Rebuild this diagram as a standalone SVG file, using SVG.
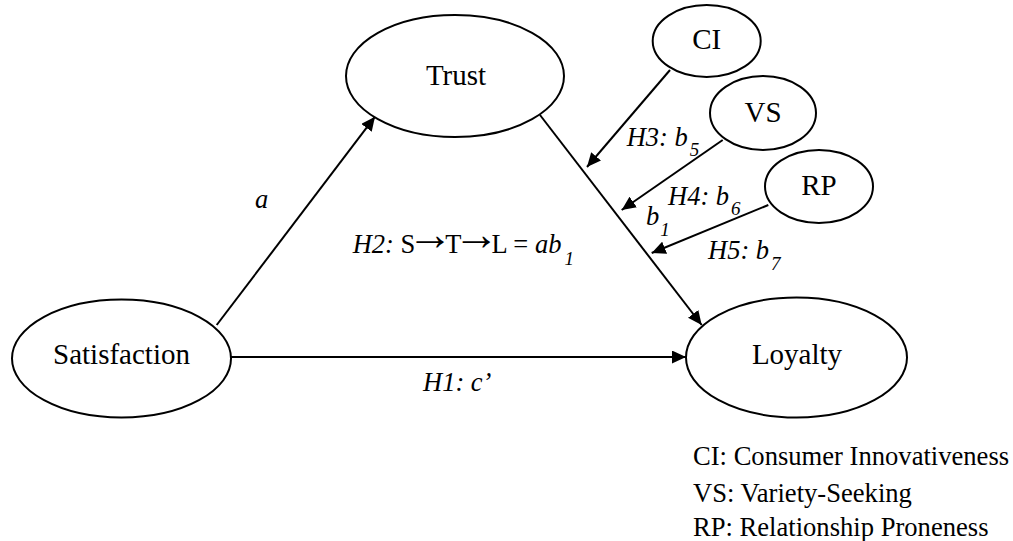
<svg xmlns="http://www.w3.org/2000/svg" width="1013" height="541" viewBox="0 0 1013 541">
  <style>
    .node { fill: #ffffff; stroke: #000000; stroke-width: 2; }
    .name { font-family: "Liberation Serif", "Times New Roman", serif; font-size: 29px; fill: #000; text-anchor: middle; }
    .edge { fill: none; stroke: #000000; stroke-width: 2; marker-end: url(#arrow); }
    .lbl { font-family: "Liberation Serif", "Times New Roman", serif; font-size: 26.5px; fill: #000; }
    .it { font-style: italic; }
    .sub { font-style: italic; font-size: 19px; }
    .arr { font-size: 46px; }
    .legend { font-family: "Liberation Serif", "Times New Roman", serif; font-size: 26.6px; fill: #000; }
  </style>
  <defs>
    <marker id="arrow" markerWidth="14" markerHeight="13" refX="14" refY="6.5" orient="auto" markerUnits="userSpaceOnUse">
      <path d="M0,0 L14,6.5 L0,13 z" fill="#000"/>
    </marker>
  </defs>

  <rect width="1013" height="541" fill="#ffffff"/>

  <!-- connectors -->
  <g id="connectors">
    <path class="edge" d="M216.7,325 L375,116.7"/>
    <path class="edge" d="M231,357 L686,357"/>
    <path class="edge" d="M540,115 L701.7,325"/>
    <path class="edge" d="M670,70 L587,167"/>
    <path class="edge" d="M722.7,140 L621.7,210"/>
    <path class="edge" d="M768.3,205 L651.7,253"/>
  </g>

  <!-- nodes -->
  <g id="trust">
    <ellipse class="node" cx="455" cy="76" rx="109" ry="61"/>
    <text class="name" x="456" y="85">Trust</text>
  </g>
  <g id="satisfaction">
    <ellipse class="node" cx="121.5" cy="358.5" rx="109.5" ry="59"/>
    <text class="name" x="121.5" y="364">Satisfaction</text>
  </g>
  <g id="loyalty">
    <ellipse class="node" cx="796.5" cy="357.5" rx="110.5" ry="60"/>
    <text class="name" x="797" y="364">Loyalty</text>
  </g>
  <g id="ci">
    <ellipse class="node" cx="706.7" cy="41" rx="54" ry="36"/>
    <text class="name" x="706.7" y="49">CI</text>
  </g>
  <g id="vs">
    <ellipse class="node" cx="763" cy="113" rx="53" ry="37"/>
    <text class="name" x="763" y="122">VS</text>
  </g>
  <g id="rp">
    <ellipse class="node" cx="819" cy="186.5" rx="54" ry="36.5"/>
    <text class="name" x="819" y="195">RP</text>
  </g>

  <!-- path labels -->
  <g id="labels">
    <text class="lbl it" x="255" y="208">a</text>
    <text class="lbl" x="352.7" y="253"><tspan class="it">H2:</tspan> S<tspan class="arr" dx="-8" dy="-3">→</tspan><tspan dx="-8" dy="3">T</tspan><tspan class="arr" dx="-8" dy="-3">→</tspan><tspan dx="-8" dy="3">L = </tspan><tspan class="it">ab</tspan><tspan class="sub" dx="3" dy="12">1</tspan></text>
    <text class="lbl it" x="626.7" y="146">H3: b<tspan class="sub" dx="2" dy="10">5</tspan></text>
    <text class="lbl it" x="668" y="205">H4: b<tspan class="sub" dx="2" dy="10">6</tspan></text>
    <text class="lbl it" x="646" y="225">b<tspan class="sub" dx="1" dy="11">1</tspan></text>
    <text class="lbl it" x="708" y="259">H5: b<tspan class="sub" dx="2" dy="11">7</tspan></text>
    <text class="lbl it" x="423" y="390.7">H1: c’</text>
  </g>

  <!-- abbreviations -->
  <g id="legend">
    <text class="legend" x="693" y="465">CI: Consumer Innovativeness</text>
    <text class="legend" x="693" y="502">VS: Variety-Seeking</text>
    <text class="legend" x="693" y="536">RP: Relationship Proneness</text>
  </g>
</svg>
